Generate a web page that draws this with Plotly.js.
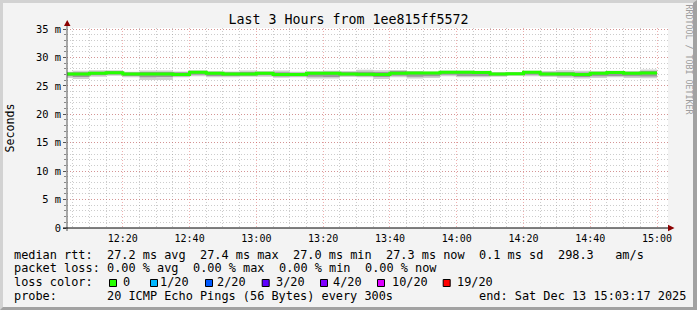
<!DOCTYPE html>
<html><head><meta charset="utf-8">
<script src="https://cdn.plot.ly/plotly-3.0.1.min.js"></script>
<style>
html,body{margin:0;padding:0;background:#f3f3f3;}
#wrap{position:relative;width:697px;height:310px;}
#frame{position:absolute;left:0;top:0;width:697px;height:310px;box-sizing:border-box;border-style:solid;border-width:3px 4px 3px 3px;border-color:#d2d2d2 #a2a2a2 #a2a2a2 #d2d2d2;pointer-events:none;}
</style>
</head><body><div id="wrap"><div id="chart"></div><div id="frame"></div></div>
<script>
// ---------- DATA ----------
const stepEnd = ['12:05','12:10','12:15','12:20','12:25','12:30','12:35','12:40','12:45','12:50','12:55','13:00',
  '13:05','13:10','13:15','13:20','13:25','13:30','13:35','13:40','13:45','13:50','13:55','14:00',
  '14:05','14:10','14:15','14:20','14:25','14:30','14:35','14:40','14:45','14:50','14:55','15:00'];
const medianRtt = [27.1,27.1,27.2,27.3,27.1,27.1,27.1,27.0,27.4,27.2,27.1,27.1,
  27.2,27.0,27.0,27.2,27.2,27.1,27.05,27.0,27.2,27.25,27.25,27.4,
  27.4,27.35,27.1,27.15,27.4,27.1,27.1,27.0,27.2,27.35,27.2,27.25];
const pingMin = [26.4,26.2,26.6,26.8,26.5,26.05,26.05,26.5,26.7,26.5,26.5,26.6,
  26.6,26.45,26.5,26.3,26.3,26.55,26.5,26.2,26.5,26.3,26.4,26.7,
  26.5,26.5,26.6,26.75,26.7,26.55,26.45,26.3,26.4,26.5,26.4,26.35];
const pingLow = [26.7,26.55,26.85,27.0,26.75,26.5,26.55,26.7,26.95,26.75,26.75,26.8,
  26.85,26.65,26.7,26.6,26.55,26.8,26.7,26.55,26.8,26.6,26.7,26.95,
  26.75,26.75,26.8,26.95,26.95,26.8,26.7,26.55,26.7,26.75,26.7,26.65];
const pingHigh = [27.35,27.4,27.5,27.6,27.35,27.45,27.45,27.4,27.6,27.45,27.4,27.45,
  27.45,27.4,27.3,27.45,27.5,27.45,27.5,27.45,27.6,27.5,27.45,27.6,
  27.6,27.55,27.3,27.35,27.55,27.4,27.45,27.35,27.45,27.55,27.45,27.6];
const pingMax = [27.5,27.65,27.75,27.75,27.5,27.7,27.7,27.55,27.75,27.6,27.55,27.7,
  27.6,27.7,27.5,27.6,27.65,27.6,27.85,27.75,27.8,27.6,27.55,27.7,
  27.7,27.65,27.45,27.45,27.65,27.6,27.75,27.65,27.6,27.65,27.6,27.9];
const yTickVals = [0,5,10,15,20,25,30,35];
const yTickText = ['0','5 m','10 m','15 m','20 m','25 m','30 m','35 m'];
const rttLegend = ['median rtt:','27.2 ms avg','27.4 ms max','27.0 ms min','27.3 ms now','0.1 ms sd','298.3   am/s'];
const lossLegend = ['packet loss:','0.00 % avg','0.00 % max','0.00 % min','0.00 % now'];
const lossColorLabels = ['0','1/20','2/20','3/20','4/20','10/20','19/20'];
const lossColors = ['#26ff00','#00b8ff','#0059ff','#5e00ff','#7e00ff','#dd00ff','#ff0000'];
const probeText = ['probe:','20 ICMP Echo Pings (56 Bytes) every 300s','end: Sat Dec 13 15:03:17 2025'];
const dateStr = '2025-12-13';
const rangeStart = '2025-12-13 12:03:17', rangeEnd = '2025-12-13 15:03:17';

// ---------- BUILD ----------
function toMin(s){const [h,m]=s.split(':').map(Number);return h*60+m;}
function fmt(min){const h=Math.floor(min/60),m=min%60;return dateStr+' '+String(h).padStart(2,'0')+':'+String(m).padStart(2,'0');}
const xs = stepEnd.map(s=>fmt(toMin(s)-5)).concat([fmt(toMin(stepEnd[stepEnd.length-1]))]);
const ext = a => a.concat([a[a.length-1]]);

const mono = 'DejaVu Sans Mono';
const traces = [
  {x:xs,y:ext(pingMin),mode:'lines',line:{width:0,shape:'hv'},hoverinfo:'skip',showlegend:false},
  {x:xs,y:ext(pingMax),mode:'lines',line:{width:0,shape:'hv'},fill:'tonexty',fillcolor:'#d0d0d0',hoverinfo:'skip',showlegend:false},
  {x:xs,y:ext(pingLow),mode:'lines',line:{width:0,shape:'hv'},hoverinfo:'skip',showlegend:false},
  {x:xs,y:ext(pingHigh),mode:'lines',line:{width:0,shape:'hv'},fill:'tonexty',fillcolor:'#9a9a9a',hoverinfo:'skip',showlegend:false},
  {x:xs,y:ext(medianRtt),mode:'lines',line:{width:3,shape:'hv',color:lossColors[0]},name:'median rtt',showlegend:false}
];

const L=67,T=28,W=601,H=200;
const px = X => (X-L)/W, py = Y => (T+H-Y)/H;
const shapes = [];
const annotations = [];
shapes.push({type:'line',xref:'paper',yref:'paper',x0:px(67),x1:px(67),y0:py(231),y1:py(25),line:{color:'#555555',width:1}});
shapes.push({type:'line',xref:'paper',yref:'paper',x0:px(63),x1:px(669),y0:py(228),y1:py(228),line:{color:'#000000',width:1}});
shapes.push({type:'path',xref:'paper',yref:'paper',path:`M ${px(64)} ${py(26)} L ${px(70.5)} ${py(26)} L ${px(67.2)} ${py(20)} Z`,fillcolor:'#8b0000',line:{width:0}});
shapes.push({type:'path',xref:'paper',yref:'paper',path:`M ${px(668)} ${py(224.8)} L ${px(668)} ${py(231.3)} L ${px(674.5)} ${py(228)} Z`,fillcolor:'#8b0000',line:{width:0}});

const cw = 7.15, x0 = 14.3;
function addText(str, X, Yc){
  annotations.push({text:str,xref:'paper',yref:'paper',x:px(X),y:py(Yc),xanchor:'left',yanchor:'middle',showarrow:false,
    borderpad:0,borderwidth:0,font:{family:mono,size:11.88,color:'#000000'}});
}
const rttIdx = [0,13,26,39,52,65,76];
rttLegend.forEach((s,i)=>addText(s, x0+rttIdx[i]*cw, 254.5));
const lossIdx = [0,13,25,37,49];
lossLegend.forEach((s,i)=>addText(s, x0+lossIdx[i]*cw, 268));
addText('loss color:', x0, 282.3);
const boxX = [109,150,205,261.7,320,377,442.7];
const labX = [123,159.5,217,276,332.5,392,457];
lossColorLabels.forEach((s,i)=>{
  shapes.push({type:'rect',xref:'paper',yref:'paper',x0:px(boxX[i]+0.5),x1:px(boxX[i]+7.5),y0:py(279.5),y1:py(286.5),
    fillcolor:lossColors[i],line:{color:'#000000',width:1}});
  addText(s, labX[i], 282.3);
});
addText(probeText[0], x0, 296);
addText(probeText[1], x0+13*cw, 296);
addText(probeText[2], x0+65*cw, 296);
annotations.push({text:'RRDTOOL / TOBI OETIKER',xref:'paper',yref:'paper',x:px(688.5),y:py(59),textangle:90,showarrow:false,
  xanchor:'center',yanchor:'middle',font:{family:mono,size:8.3,color:'#9c9c9c'}});

const layout = {
  width:697,height:310,
  margin:{l:L,r:697-L-W,t:T,b:310-T-H,pad:0},
  paper_bgcolor:'#f3f3f3',plot_bgcolor:'#ffffff',
  showlegend:false,
  title:{text:'Last 3 Hours from 1ee815ff5572',x:0.5,xanchor:'center',xref:'container',y:1-19/310,yanchor:'middle',yref:'container',
    font:{family:mono,size:13.3,color:'#000000'}},
  xaxis:{type:'date',range:[rangeStart,rangeEnd],tick0:'2025-12-13 12:20',dtick:20*60*1000,tickformat:'%H:%M',
    showgrid:true,gridcolor:'rgba(222,80,80,0.45)',griddash:'1px,2px',gridwidth:1,
    minor:{dtick:5*60*1000,tick0:'2025-12-13 12:05',showgrid:true,gridcolor:'rgba(143,143,143,0.45)',griddash:'1px,2px',gridwidth:1,ticks:''},
    ticks:'',ticklabelstandoff:3,showline:false,zeroline:false,fixedrange:true,
    tickfont:{family:mono,size:10,color:'#000000'}},
  yaxis:{range:[0,35.18],tickvals:yTickVals,ticktext:yTickText,
    showgrid:true,gridcolor:'rgba(222,80,80,0.45)',griddash:'1px,2px',gridwidth:1,
    minor:{dtick:1,tick0:0,showgrid:true,gridcolor:'rgba(143,143,143,0.45)',griddash:'1px,2px',gridwidth:1,ticks:'outside',ticklen:2,tickcolor:'#888888'},
    ticks:'outside',ticklen:3,tickcolor:'#555555',showline:false,zeroline:false,fixedrange:true,
    tickfont:{family:mono,size:10.4,color:'#000000'},
    title:{text:'Seconds',font:{family:mono,size:11.6,color:'#000000'},standoff:18}},
  shapes:shapes,annotations:annotations
};
Plotly.newPlot('chart',traces,layout,{displayModeBar:false,staticPlot:true});
</script>
</body></html>
